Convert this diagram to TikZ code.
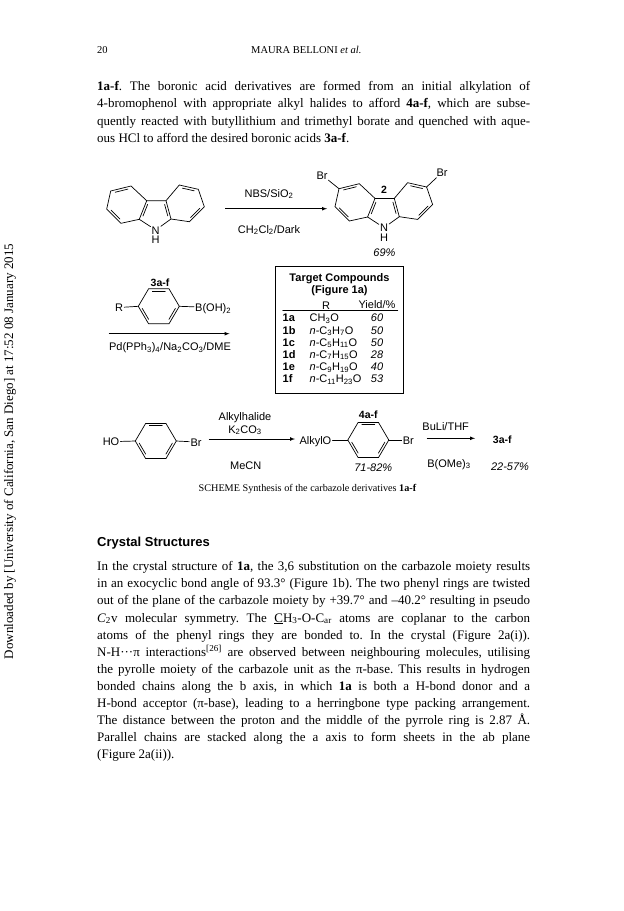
\documentclass[tikz,border=0pt]{standalone}
\usepackage{fontspec}
\setmainfont{Liberation Serif}
\setsansfont{Liberation Sans}
\usetikzlibrary{arrows,calc,positioning}
\frenchspacing
\newcommand{\low}[1]{\textsubscript{#1}}
\newcommand{\inbond}[3]{\draw[bond] ($(#1)!.14!(#2)!.13!(#3)$) -- ($(#2)!.14!(#1)!.13!(#3)$);}
\newcommand{\fullline}[1]{\hbox to 433pt{#1}}
\tikzset{
	bond/.style={line width=0.7pt, line cap=round},
	reaction_arrow/.style={line width=0.7pt, -latex},
	chem_label/.style={font=\sffamily\fontsize{11}{13}\selectfont, inner sep=1pt, text height=8pt, text depth=0pt},
	chem_bold/.style={chem_label, font=\sffamily\bfseries\fontsize{10.5}{13}\selectfont},
	chem_yield/.style={chem_label, font=\sffamily\itshape\fontsize{11}{13}\selectfont},
	table_row/.style={chem_label, anchor=west},
	table_bold/.style={chem_bold, anchor=west, font=\sffamily\bfseries\fontsize{11}{13}\selectfont},
	text_line/.style={anchor=base west, inner sep=0pt, font=\fontsize{13}{15}\selectfont},
	pics/benzene/.style={code={
		\coordinate (-c) at (0,0);
		\coordinate (-w) at (-20.5,0);
		\coordinate (-nw) at (-10.2,-17.5);
		\coordinate (-ne) at (10.2,-17.5);
		\coordinate (-e) at (20.5,0);
		\coordinate (-se) at (10.2,17.5);
		\coordinate (-sw) at (-10.2,17.5);
		\draw[bond] (-w) -- (-nw) -- (-ne) -- (-e) -- (-se) -- (-sw) -- cycle;
		\inbond{-nw}{-ne}{-c}
		\inbond{-w}{-sw}{-c}
		\inbond{-e}{-se}{-c}
	}},
	pics/carbazole/.style={code={
		\node[chem_label] (-N) at (0,0) {N};
		\node[chem_label] (-H) at (0,9.5) {H};
		\coordinate (-lc) at (-29,-25);
		\coordinate (-rc) at (29,-25);
		\coordinate (-pl) at (5,-18);
		\coordinate (-pr) at (-5,-18);
		\coordinate (-a) at (-45,-39);
		\coordinate (-b) at (-24.7,-44);
		\coordinate (-d) at (-9,-29.3);
		\coordinate (-e) at (-16.4,-10.7);
		\coordinate (-f) at (-34.7,-6.7);
		\coordinate (-g) at (-49,-21);
		\coordinate (-i) at (10.3,-29.3);
		\coordinate (-j) at (23.6,-45);
		\coordinate (-k) at (42.6,-40.7);
		\coordinate (-l) at (48.6,-23.3);
		\coordinate (-m) at (33.6,-8.3);
		\coordinate (-o) at (15.3,-11);
		\draw[bond] (-g) -- (-a) -- (-b) -- (-d) -- (-e) -- (-f) -- cycle;
		\draw[bond] (-d) -- (-i) -- (-j) -- (-k) -- (-l) -- (-m) -- (-o) -- (-i);
		\path[bond]
		(-e) edge (-N)
		(-o) edge (-N);
		\inbond{-a}{-b}{-lc}
		\inbond{-d}{-e}{-pl}
		\inbond{-f}{-g}{-lc}
		\inbond{-j}{-k}{-rc}
		\inbond{-l}{-m}{-rc}
		\inbond{-i}{-o}{-pr}
	}}
}
\begin{document}
\begin{tikzpicture}[x=1pt, y=-1pt]
	\useasboundingbox[fill=white] (0,0) rectangle (624,911);

	% page head and first paragraph
	\node[text_line, font=\fontsize{10.5}{12}\selectfont] (page_no) at (97,53.5) {20};
	\node[text_line, font=\fontsize{10.5}{12}\selectfont] (running_head) at (251,53.5) {MAURA BELLONI \textit{et al.}};
	\node[text_line] (top1) at (97,90.5) {\fullline{\textbf{1a-f}. The boronic acid derivatives are formed from an initial alkylation of}};
	\node[text_line] (top2) at (97,107.5) {\fullline{4-bromophenol with appropriate alkyl halides to afford \textbf{4a-f}, which are subse-}};
	\node[text_line] (top3) at (97,125) {\fullline{quently reacted with butyllithium and trimethyl borate and quenched with aque-}};
	\node[text_line] (top4) at (97,142) {ous HCl to afford the desired boronic acids \textbf{3a-f}.};

	% side stamp
	\node[rotate=90, inner sep=0pt, font=\fontsize{13}{15}\selectfont] (stamp) at (10,451.5) {Downloaded by [University of California, San Diego] at 17:52 08 January 2015};

	% carbazole to dibromocarbazole
	\pic (carb) at (155.7,230) {carbazole};
	\pic (dibromo) at (384,227.7) {carbazole};
	\node[chem_label] (br_left) at (322,175) {Br};
	\node[chem_label] (br_right) at (442,172.5) {Br};
	\path[bond]
	(br_left) edge (dibromo-a)
	(br_right) edge (dibromo-k);
	\node[chem_bold] (two) at (384,189.5) {2};
	\node[chem_yield] (y69) at (384.5,252) {69\%};
	\node[chem_label] (nbs) at (269,193) {NBS/SiO\low{2}};
	\node[chem_label] (dark) at (269,229) {CH\low{2}Cl\low{2}/Dark};
	\coordinate (a1s) at (225,208.7);
	\coordinate (a1e) at (327,208.7);
	\draw[reaction_arrow] (a1s) -- (a1e);

	% boronic acid
	\pic (boro) at (158.8,306.3) {benzene};
	\node[chem_label] (r) at (119,307.5) {R};
	\node[chem_label, anchor=west] (boh) at (194,307.5) {B(OH)\low{2}};
	\node[chem_bold] (b3a) at (160,282) {3a-f};
	\path[bond]
	(r) edge (boro-w)
	(boro-e) edge (boh);
	\coordinate (a2s) at (108.5,333.7);
	\coordinate (a2e) at (229.5,333.7);
	\draw[reaction_arrow] (a2s) -- (a2e);
	\node[chem_label] (pd) at (170,346.7) {Pd(PPh\low{3})\low{4}/Na\low{2}CO\low{3}/DME};

	% table
	\node[draw, line width=0.7pt, minimum width=128pt, minimum height=127pt, inner sep=0pt] (table_box) at (339.8,330.3) {};
	\node[chem_bold, font=\sffamily\bfseries\fontsize{11}{13}\selectfont] (tgt1) at (339.5,277.3) {Target Compounds};
	\node[chem_bold, font=\sffamily\bfseries\fontsize{11}{13}\selectfont] (tgt2) at (339.5,289.5) {(Figure 1a)};
	\node[chem_label] (th_r) at (326,305) {R};
	\node[chem_label] (th_y) at (377,304) {Yield/\%};
	\coordinate (rule_l) at (282.7,310);
	\coordinate (rule_r) at (397.7,310);
	\draw[bond] (rule_l) -- (rule_r);
	\node[table_bold] (n1) at (281.5,317.7) {1a};
	\node[table_bold] (n2) at (281.5,330) {1b};
	\node[table_bold] (n3) at (281.5,342) {1c};
	\node[table_bold] (n4) at (281.5,354.3) {1d};
	\node[table_bold] (n5) at (281.5,366.7) {1e};
	\node[table_bold] (n6) at (281.5,378.7) {1f};
	\node[table_row] (r1) at (308.5,317.7) {CH\low{3}O};
	\node[table_row] (r2) at (308.5,330) {\textit{n}-C\low{3}H\low{7}O};
	\node[table_row] (r3) at (308.5,342) {\textit{n}-C\low{5}H\low{11}O};
	\node[table_row] (r4) at (308.5,354.3) {\textit{n}-C\low{7}H\low{15}O};
	\node[table_row] (r5) at (308.5,366.7) {\textit{n}-C\low{9}H\low{19}O};
	\node[table_row] (r6) at (308.5,378.7) {\textit{n}-C\low{11}H\low{23}O};
	\node[chem_yield] (y1) at (377,317.7) {60};
	\node[chem_yield] (y2) at (377,330) {50};
	\node[chem_yield] (y3) at (377,342) {50};
	\node[chem_yield] (y4) at (377,354.3) {28};
	\node[chem_yield] (y5) at (377,366.7) {40};
	\node[chem_yield] (y6) at (377,378.7) {53};

	% bromophenol to boronic acid
	\pic (phenol) at (155.8,441) {benzene};
	\node[chem_label] (ho) at (111,441.7) {HO};
	\node[chem_label] (br_a) at (196,442) {Br};
	\path[bond]
	(ho) edge (phenol-w)
	(phenol-e) edge (br_a);
	\node[chem_label] (alkyl) at (245,416) {Alkylhalide};
	\node[chem_label] (k2) at (245,429.3) {K\low{2}CO\low{3}};
	\node[chem_label] (mecn) at (245.7,465.7) {MeCN};
	\coordinate (a3s) at (208.5,439);
	\coordinate (a3e) at (295,439);
	\draw[reaction_arrow] (a3s) -- (a3e);
	\pic (ether) at (368.3,440) {benzene};
	\node[chem_label, anchor=east] (alkylo) at (332.5,440) {AlkylO};
	\node[chem_label] (br_b) at (408.3,440) {Br};
	\path[bond]
	(alkylo) edge (ether-w)
	(ether-e) edge (br_b);
	\node[chem_bold] (e4a) at (368.3,414.3) {4a-f};
	\node[chem_yield] (y71) at (373.3,467.3) {71-82\%};
	\node[chem_label] (buli) at (445.7,426.7) {BuLi/THF};
	\coordinate (a4s) at (426.7,438.3);
	\coordinate (a4e) at (475,438.3);
	\draw[reaction_arrow] (a4s) -- (a4e);
	\node[chem_bold] (f3a) at (502.3,439.3) {3a-f};
	\node[chem_label] (bome) at (449,463.3) {B(OMe)\low{3}};
	\node[chem_yield] (y22) at (510,466) {22-57\%};
	\node[inner sep=0pt, font=\fontsize{10.2}{12}\selectfont] (caption) at (307.5,489) {SCHEME Synthesis of the carbazole derivatives \textbf{1a-f}};

	% crystal structures section
	\node[anchor=base west, inner sep=0pt, font=\sffamily\bfseries\fontsize{13}{15}\selectfont] (heading) at (97,546) {Crystal Structures};
	\node[text_line] (p1) at (97,570) {\fullline{In the crystal structure of \textbf{1a}, the 3,6 substitution on the carbazole moiety results}};
	\node[text_line] (p2) at (97,587.3) {\fullline{in an exocyclic bond angle of 93.3° (Figure 1b). The two phenyl rings are twisted}};
	\node[text_line] (p3) at (97,604.6) {\fullline{out of the plane of the carbazole moiety by +39.7° and –40.2° resulting in pseudo}};
	\node[text_line] (p4) at (97,622) {\fullline{\textit{C}\low{2}v molecular symmetry. The \underline{C}H\low{3}-O-C\low{ar} atoms are coplanar to the carbon}};
	\node[text_line] (p5) at (97,639) {\fullline{atoms of the phenyl rings they are bonded to. In the crystal (Figure 2a(i)).}};
	\node[text_line] (p6) at (97,656) {\fullline{N-H···π interactions\textsuperscript{[26]} are observed between neighbouring molecules, utilising}};
	\node[text_line] (p7) at (97,673) {\fullline{the pyrolle moiety of the carbazole unit as the π-base. This results in hydrogen}};
	\node[text_line] (p8) at (97,690) {\fullline{bonded chains along the b axis, in which \textbf{1a} is both a H-bond donor and a}};
	\node[text_line] (p9) at (97,707) {\fullline{H-bond acceptor (π-base), leading to a herringbone type packing arrangement.}};
	\node[text_line] (p10) at (97,724.3) {\fullline{The distance between the proton and the middle of the pyrrole ring is 2.87 Å.}};
	\node[text_line] (p11) at (97,741.3) {\fullline{Parallel chains are stacked along the a axis to form sheets in the ab plane}};
	\node[text_line] (p12) at (97,758.5) {(Figure 2a(ii)).};
\end{tikzpicture}
\end{document}
